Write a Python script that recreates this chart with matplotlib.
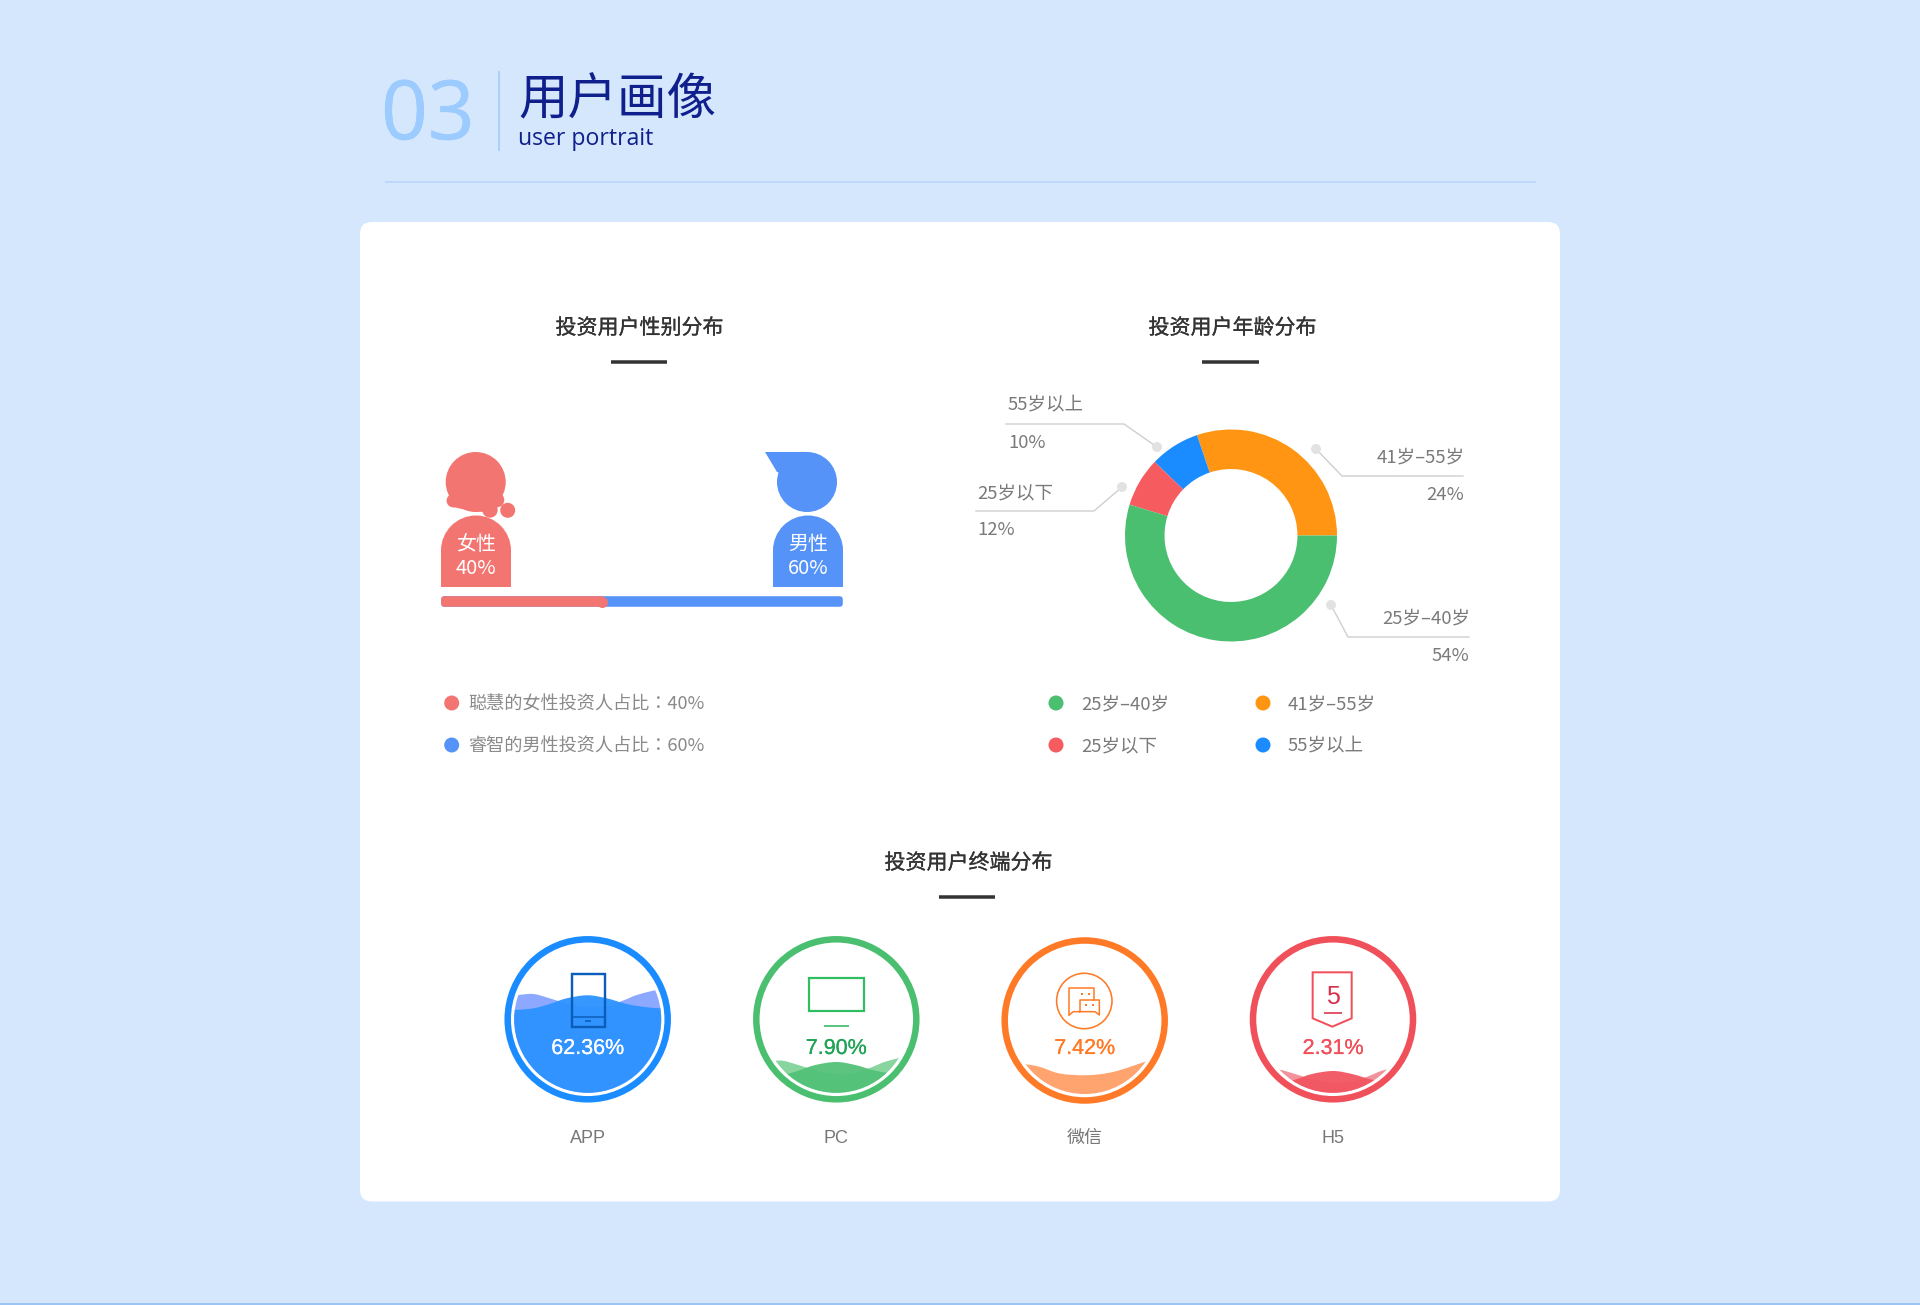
import numpy as np
import matplotlib
matplotlib.use('Agg')
import matplotlib.pyplot as plt
import matplotlib.patheffects as pe
from matplotlib.patches import Circle, Wedge, Rectangle, Polygon, FancyBboxPatch, PathPatch
from matplotlib.path import Path

plt.rcParams['font.family'] = ['Noto Sans CJK SC', 'DejaVu Sans']

# gender
gender_names = ['女性', '男性']
gender_share = [40, 60]
gender_legend = ['聪慧的女性投资人占比：40%', '睿智的男性投资人占比：60%']

# age: the drawn arcs do not agree with the printed percentages, so both are kept
age_names = ['41岁–55岁', '55岁以上', '25岁以下', '25岁–40岁']
age_arc = [30.2, 7.6, 7.5, 54.7]
age_label = ['24%', '10%', '12%', '54%']
age_colors = ['#FF9513', '#1A8CFF', '#F55B5F', '#4ABF70']

# terminals
term_names = ['APP', 'PC', '微信', 'H5']
term_values = ['62.36%', '7.90%', '7.42%', '2.31%']
term_crest = [-24, 42.7, None, 51.7]   # wave crest height
term_ring = ['#1A8CFF', '#4ABF70', '#FF7A26', '#F0505A']
term_text = ['#FFFFFF', '#1FA355', '#FF7A26', '#F0505A']
term_front = ['#2B92FF', '#53C178', '#FFA36F', '#F25560']
term_back = ['#8CA9FF', '#88D5A0', '#FFA36F', '#F2929A']

# wave outlines read from the gauges (dx, dy from the crest)
wave_front_x = [-85, -73, -54, -38, -21, 0, 19, 39, 59, 73, 85]
wave_front_y = [15.5, 14.7, 13, 8.7, 3, 0, 3, 8.7, 12, 13, 14]
wave_back_x = [-85, -69, -54, -38, -18, 0, 19, 36, 49, 67, 85]
wave_back_y = [2, -0.3, -1.3, 3, 9, 12, 11, 5, -0.3, -5, -9]
wave_wx_x = [-80, -60, -45, -25, 2, 29, 62, 80]
wave_wx_y = [42, 43.7, 46.3, 53, 54.7, 51.3, 40.7, 35]

BG = '#D5E7FD'
RED = '#F37572'
BLUE = '#5693F9'
GREY = '#7A7A7A'
W, H = 1920, 1305

fig = plt.figure(figsize=(19.2, 13.05), dpi=100, facecolor=BG)
ax = fig.add_axes([0, 0, 1, 1])
ax.set_xlim(0, W)
ax.set_ylim(H, 0)
ax.axis('off')


def px_axes(x0, y0, w, h):
    a = fig.add_axes([x0 / W, 1 - (y0 + h) / H, w / W, h / H])
    a.axis('off')
    return a


def txt(x, y, s, px, color=GREY, ha='center', family=None, stroke=0, zorder=6):
    t = ax.text(x, y, s, fontsize=px * 0.72, color=color, ha=ha, va='center',
                family=family or ['Noto Sans CJK SC', 'DejaVu Sans'], zorder=zorder)
    if stroke:
        t.set_path_effects([pe.withStroke(linewidth=stroke, foreground=color)])


def line(xs, ys, color, lw_px, zorder=5):
    ax.plot(xs, ys, color=color, lw=lw_px * 0.72, zorder=zorder, solid_capstyle='butt')


def smooth_path(xs, ys, y_bottom):
    # catmull-rom through the points, then closed under the gauge
    pts = np.column_stack([xs, ys])
    verts = [pts[0]]
    codes = [Path.MOVETO]
    for i in range(len(pts) - 1):
        p0 = pts[max(i - 1, 0)]
        p1 = pts[i]
        p2 = pts[i + 1]
        p3 = pts[min(i + 2, len(pts) - 1)]
        verts += [p1 + (p2 - p0) / 6, p2 - (p3 - p1) / 6, p2]
        codes += [Path.CURVE4] * 3
    verts += [(xs[-1], y_bottom), (xs[0], y_bottom), pts[0]]
    codes += [Path.LINETO, Path.LINETO, Path.CLOSEPOLY]
    return Path(verts, codes)


def section_title(cx, y, s, ux0, ux1):
    txt(cx + 0.5, y + 2, s, 21, color='#333333', stroke=0.2)
    line([ux0, ux1], [y + 36, y + 36], '#333333', 3.5)


# header
txt(381, 118, '03', 82, color='#9CCBFF', ha='left', family='Open Sans', stroke=0.4)
line([498.5, 498.5], [71, 151], '#A9D0FA', 2)
txt(518, 100, '用户画像', 49.5, color='#0F1F8C', ha='left')
txt(518, 139, 'user portrait', 23, color='#0F1F8C', ha='left', family='Open Sans')
line([384.5, 1535.5], [181.5, 181.5], '#B5D5FB', 1.5)
line([0, W], [1304, 1304], '#9CC4F5', 2)

# card
ax.add_patch(FancyBboxPatch((372, 234), 1176, 955.5, boxstyle='round,pad=12,rounding_size=12',
                            fc='white', ec='none', zorder=1))

section_title(639, 326, '投资用户性别分布', 611, 667)
section_title(1232, 326, '投资用户年龄分布', 1202, 1259)
section_title(968, 861, '投资用户终端分布', 939, 995)

# gender figures
for cx, c, name, share in zip([476, 808], [RED, BLUE], gender_names, gender_share):
    ax.add_patch(Wedge((cx, 550.5), 35, 180, 360, fc=c, ec='none', zorder=3))
    ax.add_patch(Rectangle((cx - 35, 550), 70, 36.7, fc=c, ec='none', zorder=3))
    txt(cx, 545, name, 20, color='white')
    txt(cx, 569, '%d%%' % share, 20, color='white')

ax.add_patch(Circle((475.7, 482), 30, fc=RED, ec='none', zorder=3))
for bx, by, br in [(453.3, 500.7, 6.7), (497, 500, 7.3), (490, 510, 7.7), (507.7, 510.3, 7.5)]:
    ax.add_patch(Circle((bx, by), br, fc=RED, ec='none', zorder=3))
ax.add_patch(Polygon([(453, 507), (462, 509), (483, 512), (490, 500), (470, 490)], fc=RED, ec='none', zorder=3))

ax.add_patch(Circle((807, 482), 30, fc=BLUE, ec='none', zorder=3))
ax.add_patch(Polygon([(765, 452), (807, 452), (800, 480), (777, 472)], fc=BLUE, ec='none', zorder=3))

# share bar
ax_bar = px_axes(443.7, 596, 396.6, 11)
ax_bar.set_xlim(0, sum(gender_share))
ax_bar.set_ylim(-0.5, 0.5)
ax_bar.barh(0, gender_share[0] + gender_share[1], height=0.5, color=BLUE, edgecolor=BLUE,
            linewidth=4, joinstyle='round', clip_on=False)
ax_bar.barh(0, gender_share[0], height=0.5, color=RED, edgecolor=RED, linewidth=4,
            joinstyle='round', clip_on=False)
ax_bar.plot([gender_share[0]], [0], 'o', color=RED, ms=11 * 0.72, mew=0, clip_on=False)

# the traditional cut centres the full-width colon like the reference
for y, c, s in zip([703, 745], [RED, BLUE], gender_legend):
    ax.add_patch(Circle((451.7, y), 7.5, fc=c, ec='none', zorder=3))
    txt(468, y + 1.5, s, 18.2, color='#8A8A8A', ha='left', family=['Noto Sans CJK TC', 'DejaVu Sans'])

# donut
ax_pie = px_axes(1125, 429.5, 212, 212)
ax_pie.pie(age_arc, colors=age_colors, startangle=0, counterclock=True, radius=1,
           wedgeprops={'width': 0.373, 'linewidth': 0})
ax_pie.set_xlim(-1, 1)
ax_pie.set_ylim(-1, 1)

leader_x = [[1463, 1342, 1316], [1006, 1124, 1157], [976, 1094, 1122], [1469, 1348, 1331]]
leader_y = [[476, 476, 449], [424, 424, 447], [511, 511, 487], [637, 637, 605]]
name_pos = [(1465, 457, 'right'), (1008, 405, 'left'), (977, 493, 'left'), (1470, 618, 'right')]
pct_pos = [(1464, 495, 'right'), (1008, 443, 'left'), (977, 530, 'left'), (1469, 656, 'right')]
for i in range(4):
    ax.plot(leader_x[i], leader_y[i], color='#CFCFCF', lw=1, zorder=3)
    ax.add_patch(Circle((leader_x[i][2], leader_y[i][2]), 5, fc='#E2E2E2', ec='none', zorder=4))
    txt(name_pos[i][0], name_pos[i][1], age_names[i], 18.5, ha=name_pos[i][2])
    txt(pct_pos[i][0], pct_pos[i][1], age_label[i], 18.5, ha=pct_pos[i][2])

# order of the legend differs from the order of the arcs
leg_idx = [3, 0, 2, 1]
leg_dot = [(1056, 703), (1263, 703), (1056, 745), (1263, 745)]
leg_txt = [1081, 1288, 1081, 1288]
for i, (dx, dy), tx in zip(leg_idx, leg_dot, leg_txt):
    ax.add_patch(Circle((dx, dy), 7.5, fc=age_colors[i], ec='none', zorder=3))
    txt(tx, dy + 1.5, age_names[i], 18.5, ha='left')

# gauges
g_cx = [587.7, 836.3, 1084.7, 1333]
g_cy = [1019.3, 1019.3, 1020.5, 1019.3]
for i in range(4):
    cx, cy = g_cx[i], g_cy[i]
    ax.add_patch(Circle((cx, cy), 80, fc='white', ec=term_ring[i], lw=6.5 * 0.72, zorder=2))
    clip = Circle((cx, cy), 73.5, transform=ax.transData)
    if term_crest[i] is None:
        p = smooth_path(cx + np.array(wave_wx_x), cy + np.array(wave_wx_y), cy + 90)
        pat = PathPatch(p, fc=term_front[i], ec='none', zorder=3)
        ax.add_patch(pat)
        pat.set_clip_path(clip)
    else:
        y0 = cy + term_crest[i]
        p = smooth_path(cx + np.array(wave_back_x), y0 + np.array(wave_back_y), cy + 90)
        pat = PathPatch(p, fc=term_back[i], ec='none', zorder=3)
        ax.add_patch(pat)
        pat.set_clip_path(clip)
        p = smooth_path(cx + np.array(wave_front_x), y0 + np.array(wave_front_y), cy + 90)
        pat = PathPatch(p, fc=term_front[i], ec='none', alpha=0.95, zorder=3.1)
        ax.add_patch(pat)
        pat.set_clip_path(clip)
    txt(cx, 1048.5, term_values[i], 21.5, color=term_text[i], family='Liberation Sans', stroke=0.15, zorder=7)
    txt(cx, 1138.5, term_names[i], 18, color='#777777', family=['Liberation Sans', 'Noto Sans CJK SC'])

# phone icon
c = '#0A5DB8'
ax.add_patch(Rectangle((572, 973.5), 32.5, 53.5, fc='none', ec=c, lw=2.4 * 0.72, zorder=5))
line([572, 604.5], [1017, 1017], c, 1.5)
line([585, 591], [1020.7, 1020.7], c, 1.6)

# screen icon
c = '#2FBF62'
ax.add_patch(Rectangle((809.3, 978.3), 55, 33, fc='none', ec=c, lw=2.2 * 0.72, zorder=5))
line([824.3, 849], [1025.7, 1025.7], '#4ABF70', 1.8)


# chat icon, points read on the 3x crop of the gauge
def z3(xs, ys):
    return [980 + x / 3 for x in xs], [920 + y / 3 for y in ys]


c = '#FF7A26'
ax.add_patch(Circle((1084.3, 1001), 27.7, fc='none', ec=c, lw=1.6 * 0.72, zorder=5))
ax.plot(*z3([268, 268, 342, 342], [285, 205, 205, 240]), color=c, lw=1.1, zorder=5)
ax.plot(*z3([268, 280, 300, 300, 358, 358, 345, 300], [285, 275, 275, 240, 240, 285, 275, 275]),
        color=c, lw=1.1, zorder=5)
ax.plot(*z3([305, 327, 318, 340], [222, 222, 256, 256]), 's', color=c, ms=2, mew=0, zorder=5)

# h5 icon
c = '#F0505A'
sx, sy = z3([998, 1115, 1115, 1057, 998], [157, 157, 295, 320, 295])
ax.add_patch(Polygon(list(zip(sx, sy)), closed=True, fc='none', ec=c, lw=2 * 0.72, zorder=5))
txt(1332.8, 996.5, '5', 25, color='#D8304A', family='Liberation Sans')
ux, uy = z3([1032, 1085], [278, 278])
line(ux, uy, '#D8304A', 1.6)

fig.savefig('out.png', dpi=100, facecolor=BG)
